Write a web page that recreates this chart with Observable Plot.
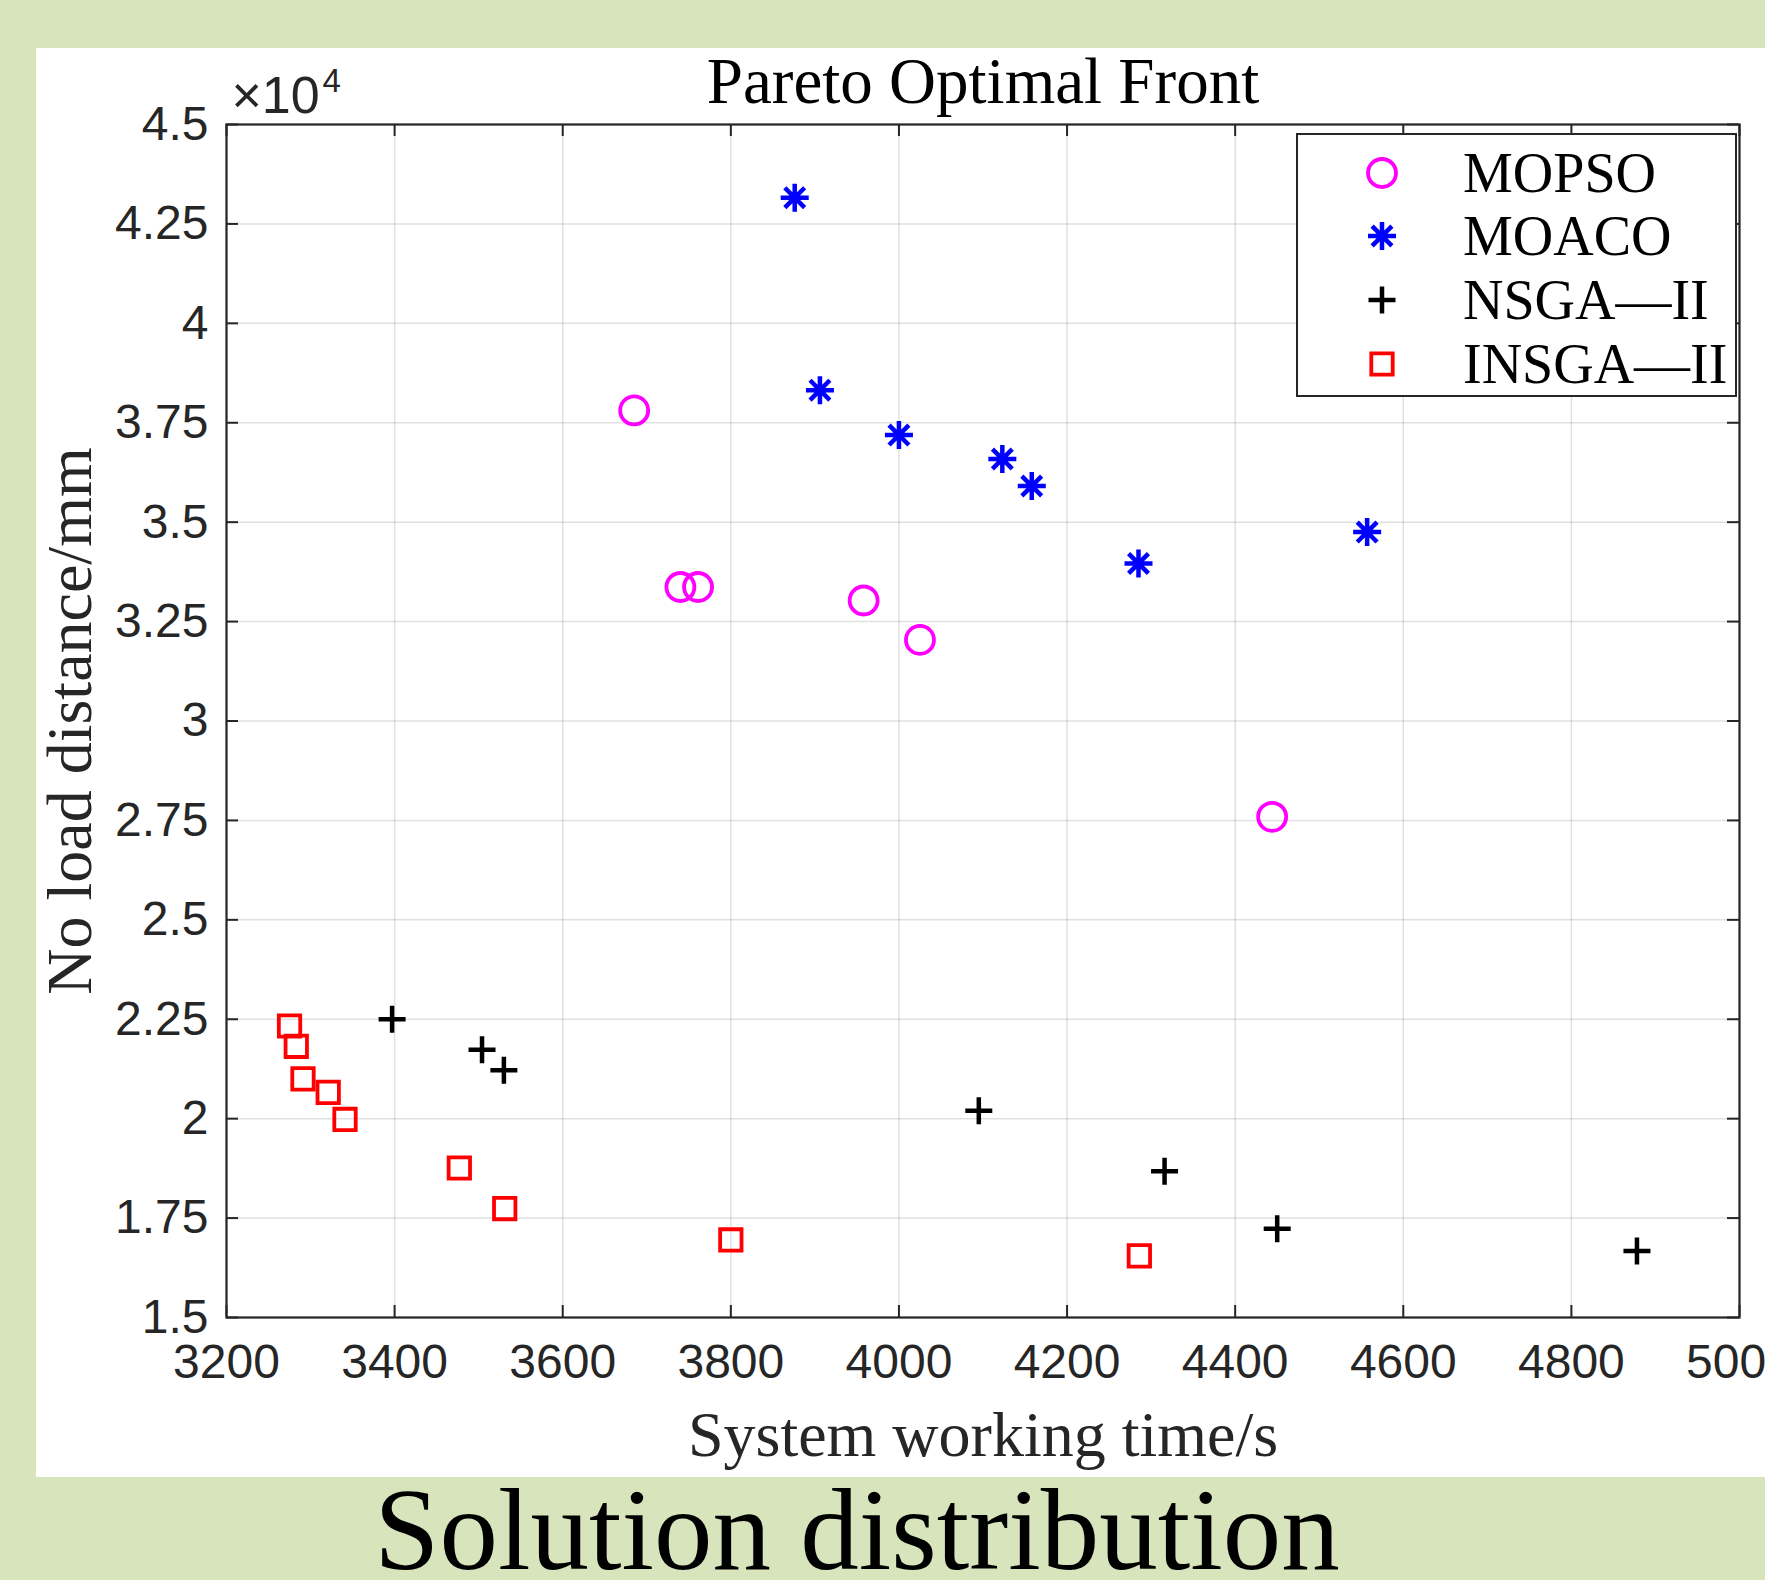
<!DOCTYPE html>
<html>
<head>
<meta charset="utf-8">
<script src="https://cdn.jsdelivr.net/npm/d3@7"></script>
<script src="https://cdn.jsdelivr.net/npm/@observablehq/plot@0.6"></script>
<style>
  html, body { margin: 0; padding: 0; overflow: hidden; }
  body { width: 1765px; height: 1580px; background: #d8e4bc; position: relative; }
  #panel { position: absolute; left: 36px; top: 48px; width: 1729px; height: 1429px; background: #fff; }
  #legend { position: absolute; left: 1260px; top: 85px; width: 437px; height: 260px; border: 2px solid #262626; background: #fff; }
  .row { position: absolute; left: 0; height: 64px; width: 100%; }
  .row svg { position: absolute; left: 64px; top: 12px; }
  .row span { position: absolute; left: 165px; top: 0; line-height: 64px; font-family: "Liberation Serif", "Times New Roman", serif; font-size: 56px; color: #000; white-space: nowrap; }
  #caption { position: absolute; left: 357px; width: 1000px; top: 1482px; height: 96px; text-align: center; font-family: "Liberation Serif", "Times New Roman", serif; font-size: 117px; line-height: 96px; color: #000; }
</style>
</head>
<body>
<div id="panel"><div id="chart"></div><div id="legend"></div></div>
<div id="caption">Solution distribution</div>
<script>
// ---- data (System working time / s, No load distance / mm) ----
const seriesNames = ["MOPSO", "MOACO", "NSGA—II", "INSGA—II"];
const mopsoTime = [3685, 3740, 3761, 3958, 4025, 4444];
const mopsoDist = [37810, 33370, 33370, 33030, 32040, 27590];
const moacoTime = [3876, 3906, 4000, 4123, 4158, 4285, 4557];
const moacoDist = [43160, 38320, 37190, 36590, 35910, 33960, 34750];
const nsgaTime = [3397, 3504, 3530, 4095, 4316, 4450, 4878];
const nsgaDist = [22500, 21730, 21220, 20200, 18680, 17230, 16670];
const insgaTime = [3275, 3283, 3291, 3321, 3341, 3477, 3531, 3800, 4286];
const insgaDist = [22330, 21820, 21000, 20660, 19980, 18760, 17740, 16950, 16550];
const xTicks = [3200, 3400, 3600, 3800, 4000, 4200, 4400, 4600, 4800, 5000];
const yTicks = [15000, 17500, 20000, 22500, 25000, 27500, 30000, 32500, 35000, 37500, 40000, 42500, 45000];

const zip = (xs, ys) => xs.map((x, i) => ({x, y: ys[i]}));
const mopso = zip(mopsoTime, mopsoDist);
const moaco = zip(moacoTime, moacoDist);
const nsga = zip(nsgaTime, nsgaDist);
const insga = zip(insgaTime, insgaDist);

// ---- custom MATLAB-like symbols ----
const rad = size => Math.sqrt(size / Math.PI);
const star8 = { draw(ctx, size) { const r = rad(size); for (let k = 0; k < 4; k++) { const a = k * Math.PI / 4; ctx.moveTo(r * Math.cos(a), r * Math.sin(a)); ctx.lineTo(-r * Math.cos(a), -r * Math.sin(a)); } } };
const plusSym = { draw(ctx, size) { const r = rad(size); ctx.moveTo(-r, 0); ctx.lineTo(r, 0); ctx.moveTo(0, -r); ctx.lineTo(0, r); } };
const squareSym = { draw(ctx, size) { const r = rad(size); ctx.moveTo(-r, -r); ctx.lineTo(r, -r); ctx.lineTo(r, r); ctx.lineTo(-r, r); ctx.closePath(); } };
const circleSym = { draw(ctx, size) { const r = rad(size); ctx.moveTo(r, 0); ctx.arc(0, 0, r, 0, 2 * Math.PI); } };

const styles = [
  {symbol: circleSym, r: 14, stroke: "#ff00ff", strokeWidth: 3.8},
  {symbol: star8, r: 14, stroke: "#0000ff", strokeWidth: 4.5},
  {symbol: plusSym, r: 13.5, stroke: "#000000", strokeWidth: 4.5},
  {symbol: squareSym, r: 10.7, stroke: "#ff0000", strokeWidth: 3.8}
];

const W = 1729, H = 1429;
const mL = 190, mR = 26, mT = 76, mB = 160;
const fw = W - mL - mR, fh = H - mT - mB;
const tickLen = 12;
const axisColor = "#262626";
const sans = "'Liberation Sans', Arial, Helvetica, sans-serif";
const serif = "'Liberation Serif', 'Times New Roman', serif";

const chart = Plot.plot({
  width: W, height: H,
  marginLeft: mL, marginRight: mR, marginTop: mT, marginBottom: mB,
  style: {background: "white", overflow: "visible"},
  x: {domain: [3200, 5000]},
  y: {domain: [15000, 45000]},
  marks: [
    Plot.gridX(xTicks, {stroke: "#000", strokeOpacity: 0.12, strokeWidth: 1.5}),
    Plot.gridY(yTicks, {stroke: "#000", strokeOpacity: 0.12, strokeWidth: 1.5}),
    Plot.tickX(xTicks, {x: d => d, insetTop: fh - tickLen, stroke: axisColor, strokeWidth: 2}),
    Plot.tickX(xTicks, {x: d => d, insetBottom: fh - tickLen, stroke: axisColor, strokeWidth: 2}),
    Plot.tickY(yTicks, {y: d => d, insetRight: fw - tickLen, stroke: axisColor, strokeWidth: 2}),
    Plot.tickY(yTicks, {y: d => d, insetLeft: fw - tickLen, stroke: axisColor, strokeWidth: 2}),
    Plot.frame({stroke: axisColor, strokeWidth: 2.2}),
    Plot.axisX({ticks: xTicks, tickSize: 0, tickPadding: 26, fontSize: 48, fontFamily: sans, fill: axisColor, label: null, tickFormat: d => String(d)}),
    Plot.axisY({ticks: yTicks, tickSize: 0, tickPadding: 18, fontSize: 48, fontFamily: sans, fill: axisColor, label: null, tickFormat: d => String(d / 1e4)}),
    Plot.text(["×10"], {frameAnchor: "top-left", textAnchor: "start", lineAnchor: "bottom", dx: 5, dy: -12, fontSize: 52, fontFamily: sans, fill: axisColor}),
    Plot.text(["4"], {frameAnchor: "top-left", textAnchor: "start", lineAnchor: "bottom", dx: 96, dy: -33, fontSize: 33, fontFamily: sans, fill: axisColor}),
    Plot.text(["Pareto Optimal Front"], {frameAnchor: "top", lineAnchor: "bottom", dy: -22, fontSize: 65, fontFamily: serif, fill: "#000"}),
    Plot.text(["System working time/s"], {frameAnchor: "bottom", lineAnchor: "bottom", dy: 138, fontSize: 64, fontFamily: serif, fill: axisColor}),
    Plot.text(["No load distance/mm"], {frameAnchor: "left", textAnchor: "middle", lineAnchor: "bottom", rotate: -90, dx: -136, fontSize: 64, fontFamily: serif, fill: axisColor}),
    Plot.dot(mopso, {x: "x", y: "y", fill: "none", ...styles[0]}),
    Plot.dot(moaco, {x: "x", y: "y", fill: "none", ...styles[1]}),
    Plot.dot(nsga, {x: "x", y: "y", fill: "none", ...styles[2]}),
    Plot.dot(insga, {x: "x", y: "y", fill: "none", ...styles[3]})
  ]
});
document.getElementById("chart").appendChild(chart);

// ---- legend ----
const legend = document.getElementById("legend");
const rowTops = [6, 69, 133, 197];
seriesNames.forEach((name, i) => {
  const s = styles[i];
  const row = document.createElement("div");
  row.className = "row";
  row.style.top = rowTops[i] + "px";
  const path = d3.symbol(s.symbol, Math.PI * s.r * s.r)();
  row.innerHTML = `<svg width="40" height="40" viewBox="-20 -20 40 40"><path d="${path}" fill="none" stroke="${s.stroke}" stroke-width="${s.strokeWidth}"/></svg><span>${name}</span>`;
  legend.appendChild(row);
});
</script>
</body>
</html>
